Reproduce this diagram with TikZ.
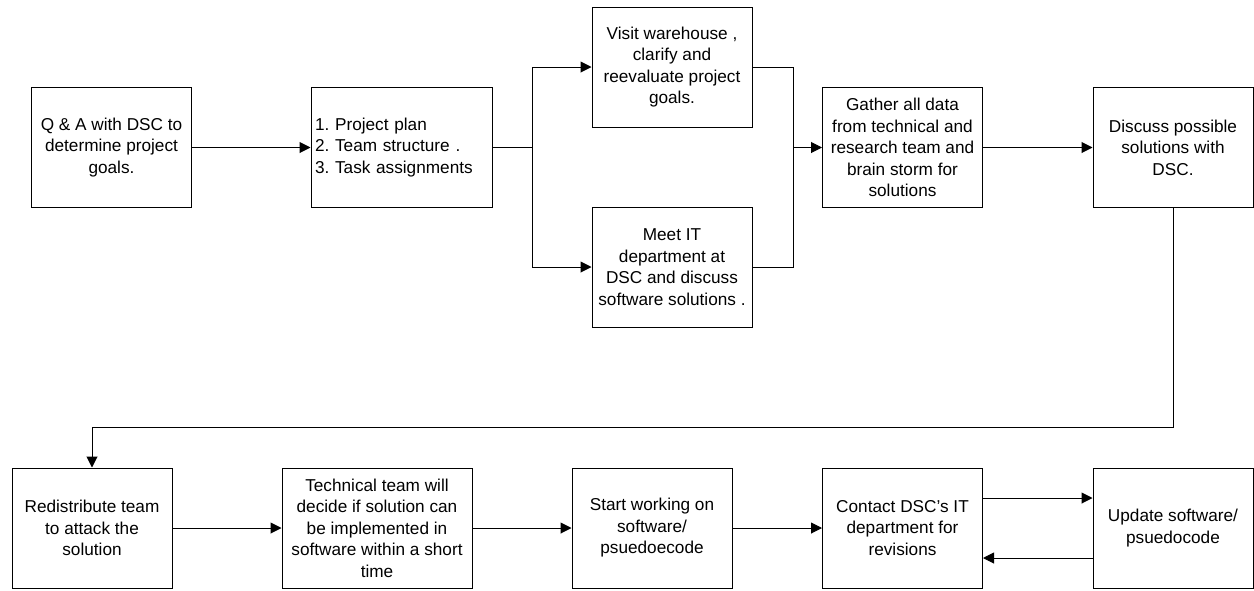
\documentclass[tikz,border=0pt]{standalone}
\usepackage{fontspec}
\setmainfont{Liberation Sans}
\usetikzlibrary{arrows.meta}

\begin{document}
\begin{tikzpicture}[x=0.5pt,y=-0.5pt,
        box/.style={draw,line width=0.5pt,minimum width=80pt,minimum height=60pt,
            align=center,inner sep=2pt,font=\fontsize{8.6}{10.75}\selectfont},
        flow/.style={line width=0.5pt,-{Triangle[length=5.5pt,width=5.5pt]}},
        wire/.style={line width=0.5pt}]
        \useasboundingbox (0,0) rectangle (1254,590);
        % top row
        \node[box] (qa) at (111.5,147.5) {Q \& A with DSC to\\determine project\\goals.};
        \node[box,minimum width=90.5pt,align=left,text width=86.5pt] (plan) at (401.5,147.5)
            {1.\ Project plan\\2.\ Team structure .\\3.\ Task assignments};
        \node[box] (visit) at (672,67) {Visit warehouse ,\\clarify and\\reevaluate project\\goals.};
        \node[box] (meet) at (672,267) {Meet IT\\department at\\DSC and discuss\\software solutions .};
        \node[box] (gather) at (902.5,147.5) {Gather all data\\from technical and\\research team and\\brain storm for\\solutions};
        \node[box] (discuss) at (1173,147.5) {Discuss possible\\solutions with\\DSC.};
        % bottom row
        \node[box] (redist) at (92,528) {Redistribute team\\to attack the\\solution};
        \node[box,minimum width=95pt] (tech) at (377,528) {Technical team will\\decide if solution can\\be implemented in\\software within a short\\time};
        \node[box] (start) at (652,528) {Start working on\\software/\\psuedoecode};
        \node[box] (contact) at (902.5,528) {Contact DSC’s IT\\department for\\revisions};
        \node[box] (update) at (1173,528) {Update software/\\psuedocode};
        % helper points
        \coordinate (split) at (532,147.5);
        \coordinate (join) at (793,147.5);
        \coordinate (turn) at (92,427);
        % connectors
        \draw[flow] (qa) -- (plan);
        \draw[wire] (plan) -- (split);
        \draw[flow] (split) |- (visit);
        \draw[flow] (split) |- (meet);
        \draw[wire] (visit) -| (join);
        \draw[wire] (meet) -| (join);
        \draw[flow] (join) -- (gather);
        \draw[flow] (gather) -- (discuss);
        \draw[flow] (discuss) |- (turn) -- (redist);
        \draw[flow] (redist) -- (tech);
        \draw[flow] (tech) -- (start);
        \draw[flow] (start) -- (contact);
        \draw[flow] ([yshift=15pt]contact.east) -- ([yshift=15pt]update.west);
        \draw[flow] ([yshift=-15pt]update.west) -- ([yshift=-15pt]contact.east);
    \end{tikzpicture}
\end{document}
